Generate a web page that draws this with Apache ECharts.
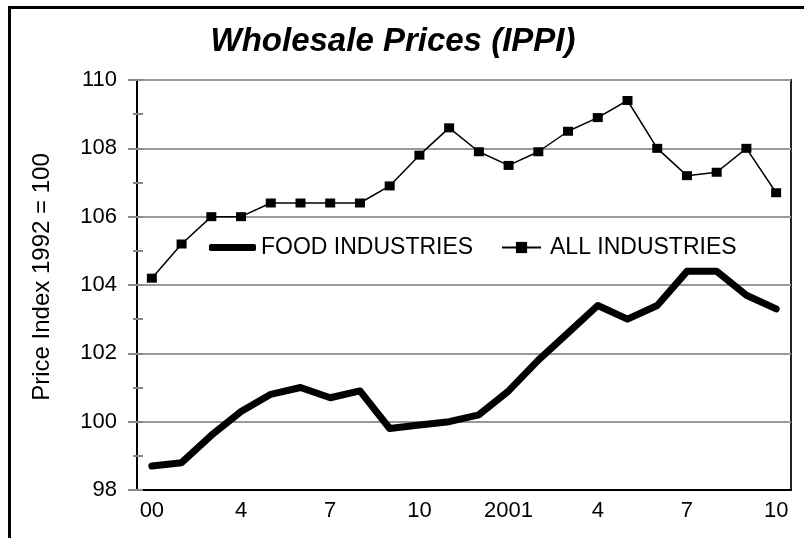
<!DOCTYPE html>
<html>
<head>
<meta charset="utf-8">
<script src="https://cdn.jsdelivr.net/npm/echarts@6/dist/echarts.min.js"></script>
<style>html,body{margin:0;padding:0;background:#fff;}#c{width:804px;height:538px;}</style>
</head>
<body>
<div id="c"></div>
<script>
var months = ['2000-01','2000-02','2000-03','2000-04','2000-05','2000-06','2000-07','2000-08','2000-09','2000-10','2000-11','2000-12',
              '2001-01','2001-02','2001-03','2001-04','2001-05','2001-06','2001-07','2001-08','2001-09','2001-10'];
var tickLabels = ['00','4','7','10','2001','4','7','10'];
var foodIndustries = [98.7,98.8,99.6,100.3,100.8,101.0,100.7,100.9,99.8,99.9,100.0,100.2,
                      100.9,101.8,102.6,103.4,103.0,103.4,104.4,104.4,103.7,103.3];
var allIndustries = [104.2,105.2,106.0,106.0,106.4,106.4,106.4,106.4,106.9,107.8,108.6,107.9,
                     107.5,107.9,108.5,108.9,109.4,108.0,107.2,107.3,108.0,106.7];

var FONT = 'Liberation Sans, Arial, sans-serif';
var chart = echarts.init(document.getElementById('c'));
chart.setOption({
  animation: false,
  backgroundColor: '#fff',
  title: {
    text: 'Wholesale Prices (IPPI)',
    left: 393, top: 25, textAlign: 'center', padding: 0,
    textStyle: { fontFamily: FONT, fontSize: 33, fontWeight: 'bold', fontStyle: 'italic', color: '#000' }
  },
  graphic: [{
    type: 'rect', shape: { x: 9.5, y: 7.5, width: 900, height: 700 },
    style: { fill: 'none', stroke: '#000', lineWidth: 3 }, silent: true
  }, {
    type: 'text', x: 42, y: 277, rotation: Math.PI / 2,
    style: { text: 'Price Index 1992 = 100', fontFamily: FONT, fontSize: 24, fill: '#000', align: 'center', verticalAlign: 'middle' },
    silent: true
  }],
  grid: { left: 137, right: 13, top: 80, bottom: 48, show: true, borderColor: '#222', borderWidth: 2, backgroundColor: 'transparent' },
  legend: [{
    data: [{ name: 'FOOD INDUSTRIES', icon: 'roundRect' }], left: 209, top: 236, padding: 0,
    itemWidth: 47, itemHeight: 7, itemStyle: { color: '#000' },
    textStyle: { fontFamily: FONT, fontSize: 23, color: '#000', padding: [0, 0, 0, 0] }
  }, {
    data: ['ALL INDUSTRIES'], left: 501, top: 236, padding: 0, itemWidth: 39, itemHeight: 14,
    textStyle: { fontFamily: FONT, fontSize: 23, color: '#000', padding: [0, 0, 0, 4] }
  }],
  xAxis: [{
    type: 'category', data: months, boundaryGap: true,
    axisLine: { lineStyle: { color: '#000', width: 2 } },
    axisTick: { alignWithLabel: true, interval: 0, length: 7, lineStyle: { color: '#888', width: 2 } },
    axisLabel: { interval: 0, margin: 10, fontFamily: FONT, fontSize: 22, color: '#000',
      formatter: function (v, i) { return i % 3 === 0 ? tickLabels[i / 3] : ''; } }
  }, {
    type: 'category', data: months, boundaryGap: true, position: 'bottom',
    axisLine: { show: false },
    axisTick: { alignWithLabel: true, interval: 0, inside: true, length: 6, lineStyle: { color: '#888', width: 2 } },
    axisLabel: { show: false }
  }],
  yAxis: [{
    type: 'value', min: 98, max: 110, interval: 2,
    axisLine: { show: true, lineStyle: { color: '#000', width: 2 } },
    axisTick: { show: true, length: 9, lineStyle: { color: '#888', width: 2 } },
    minorTick: { show: true, splitNumber: 2, length: 4, lineStyle: { color: '#888', width: 2 } },
    splitLine: { show: true, lineStyle: { color: '#999', width: 2 } },
    axisLabel: { margin: 20, fontFamily: FONT, fontSize: 22, color: '#000' }
  }, {
    type: 'value', min: 98, max: 110, interval: 1, position: 'left',
    axisLine: { show: false },
    axisTick: { show: true, inside: true, length: 6, lineStyle: { color: '#888', width: 2 } },
    splitLine: { show: false }, axisLabel: { show: false }
  }],
  series: [{
    name: 'FOOD INDUSTRIES', type: 'line', data: foodIndustries,
    symbol: 'none', lineStyle: { color: '#000', width: 7, cap: 'round', join: 'round' },
    itemStyle: { color: '#000' }, z: 3
  }, {
    name: 'ALL INDUSTRIES', type: 'line', data: allIndustries,
    symbol: 'rect', symbolSize: [10, 9], lineStyle: { color: '#000', width: 1.5 },
    itemStyle: { color: '#000' }, z: 4
  }]
});
</script>
</body>
</html>
